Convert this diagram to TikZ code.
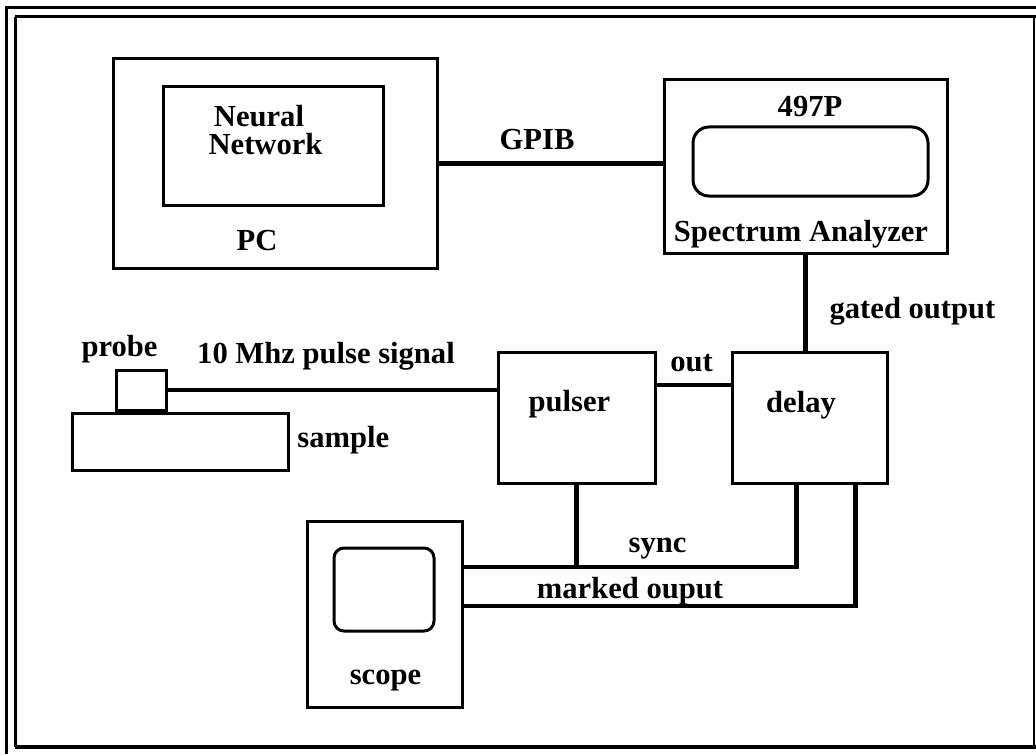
\documentclass[tikz,border=0pt]{standalone}
\usepackage{fontspec}
\setmainfont{Liberation Serif}
\usetikzlibrary{fit,calc}
\begin{document}
\begin{tikzpicture}[x=0.5pt,y=-0.5pt,
  box/.style={draw,line width=1.5pt,inner sep=0pt},
  conn/.style={line width=2.4pt},
  lbl/.style={font=\fontsize{15.3}{18}\selectfont\bfseries,anchor=base,inner sep=0pt},
  frame/.style={line width=1.5pt}]
\useasboundingbox (0,0) rectangle (1036,754);
% frame
\draw[frame] (5,8) -- (1036,8);
\draw[frame] (6,8) -- (6,754);
\draw[frame] (15,17) -- (1036,17);
\draw[frame] (15,17) -- (15,747);
\draw[line width=2pt] (15,747) -- (1036,747);
\draw[line width=0.7pt] (1034,17) -- (1034,747);
% boxes
\node[box,fit={(113,59)(437,268)}] (pc) {};
\node[box,fit={(163,87)(383,205)}] (nn) {};
\node[box,fit={(664,80)(947,253)}] (sa) {};
\node[box,rounded corners=8pt,fit={(693,127)(928,196)}] (sascreen) {};
\node[box,fit={(498,352)(655,483)}] (pulser) {};
\node[box,fit={(732,352)(887,483)}] (delay) {};
\node[box,fit={(307,521)(462,707)}] (scope) {};
\node[box,rounded corners=5pt,fit={(334,548)(434,631)}] (scscreen) {};
\node[box,fit={(72,413)(288,470)}] (sample) {};
\node[box,fit={(116,370)(166,410)}] (probe) {};
% coordinates
\coordinate (d1) at ($(delay.south west)!0.42!(delay.south east)$);
\coordinate (d2) at ($(delay.south west)!0.79!(delay.south east)$);
\coordinate (syncy) at (0,567);
\coordinate (marky) at (0,606);
\coordinate (outy) at (0,385);
% connectors
\draw[conn] (pc.east) -- (pc.east -| sa.west);
\draw[conn] (sa.south) -- (sa.south |- delay.north);
\draw[conn] (pulser.east |- outy) -- (delay.west |- outy);
\draw[conn] (probe.east) -- (probe.east -| pulser.west);
\draw[conn] (pulser.south) -- (pulser.south |- syncy);
\draw[conn] (scope.east |- syncy) -- (d1 |- syncy) -- (d1);
\draw[conn] (scope.east |- marky) -- (d2 |- marky) -- (d2);
% labels
\node[lbl] (tneural) at (259,127) {Neural};
\node[lbl] (tnetwork) at (265.5,155) {Network};
\node[lbl] (tpc) at (257,250) {PC};
\node[lbl] (tgpib) at (537,150) {GPIB};
\node[lbl] (t497) at (810,117) {497P};
\node[lbl] (tsa) at (801,241) {Spectrum Analyzer};
\node[lbl] (tgated) at (912.5,318) {gated output};
\node[lbl] (tout) at (691.5,371) {out};
\node[lbl] (tpulser) at (569.5,411) {pulser};
\node[lbl] (tdelay) at (801,412) {delay};
\node[lbl] (tprobe) at (119.5,356) {probe};
\node[lbl] (tsignal) at (326,363) {10 Mhz pulse signal};
\node[lbl,anchor=base west] (tsample) at (297,447) {sample};
\node[lbl] (tsync) at (657.5,552) {sync};
\node[lbl] (tmarked) at (630,598) {marked ouput};
\node[lbl] (tscope) at (385.5,684) {scope};
\end{tikzpicture}
\end{document}
